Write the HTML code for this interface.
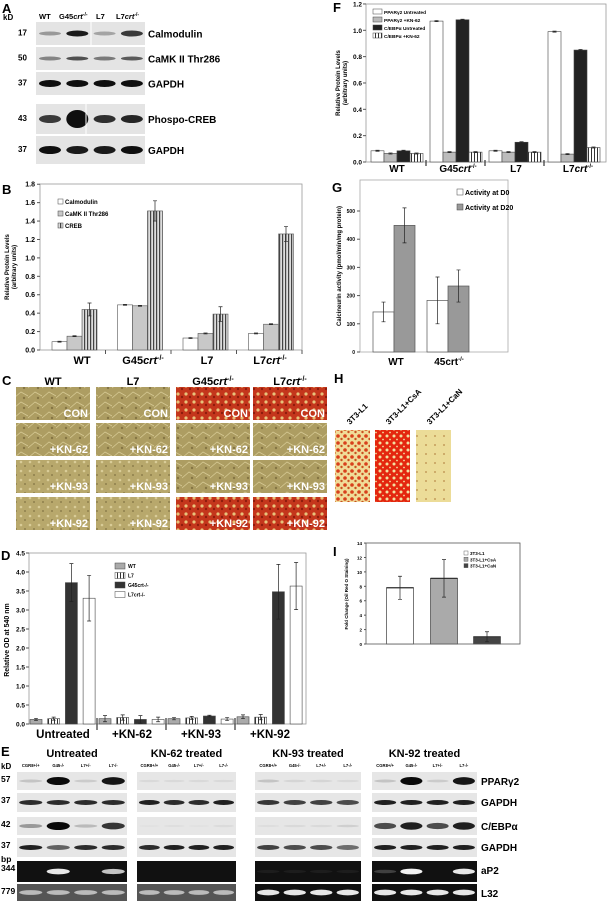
<!DOCTYPE html>
<html><head><meta charset="utf-8"><style>
body{margin:0;background:#fff}
svg{display:block;font-family:"Liberation Sans",sans-serif}
.b{font-weight:bold}
</style></head><body>
<svg id="fig" width="608" height="902" viewBox="0 0 608 902" xmlns="http://www.w3.org/2000/svg">
<defs>
<pattern id="vs" width="3" height="4" patternUnits="userSpaceOnUse"><rect width="3" height="4" fill="#ddd"/><rect width="1.2" height="4" fill="#444"/></pattern>
<pattern id="vs2" width="3" height="4" patternUnits="userSpaceOnUse"><rect width="3" height="4" fill="#fff"/><rect width="1" height="4" fill="#333"/></pattern>
<pattern id="phase" width="14" height="10" patternUnits="userSpaceOnUse"><rect width="14" height="10" fill="#ad9d62"/><path d="M0 8 L7 2 L14 6" stroke="#d6c994" stroke-width="0.8" fill="none"/><circle cx="10" cy="8" r="1.2" fill="#857544"/></pattern>
<pattern id="phase2" width="9" height="9" patternUnits="userSpaceOnUse"><rect width="9" height="9" fill="#b8a86c"/><circle cx="3" cy="3" r="1.3" fill="#d9cc98"/><circle cx="7" cy="7" r="1" fill="#8e7f4c"/></pattern>
<pattern id="red" width="8" height="8" patternUnits="userSpaceOnUse"><rect width="8" height="8" fill="#c4361c"/><circle cx="2" cy="2" r="1.6" fill="#e8c27a"/><circle cx="6" cy="5" r="1.2" fill="#8e1c0c"/></pattern>
<pattern id="hred" width="7" height="7" patternUnits="userSpaceOnUse"><rect width="7" height="7" fill="#f0dc98"/><circle cx="2" cy="2" r="1.8" fill="#d8401c"/><circle cx="5.5" cy="5" r="1.2" fill="#c85020"/></pattern>
<pattern id="hred2" width="7" height="7" patternUnits="userSpaceOnUse"><rect width="7" height="7" fill="#e4260e"/><circle cx="2" cy="2" r="1.5" fill="#f2e0a0"/><circle cx="5" cy="5.5" r="0.9" fill="#f2e0a0"/></pattern>
<pattern id="hpale" width="9" height="9" patternUnits="userSpaceOnUse"><rect width="9" height="9" fill="#ecdc98"/><circle cx="3" cy="4" r="0.9" fill="#b88a48"/></pattern>
</defs>

<!-- Panel A -->
<g>
<text x="2" y="13" class="b" font-size="13">A</text>
<text x="3" y="20" class="b" font-size="8">kD</text>
<text x="39" y="19" class="b" font-size="7.5">WT</text>
<text x="59" y="19" class="b" font-size="7.5">G45<tspan font-style="italic">crt</tspan><tspan font-size="5" dy="-3">-/-</tspan></text>
<text x="96" y="19" class="b" font-size="7.5">L7</text>
<text x="116" y="19" class="b" font-size="7.5">L7<tspan font-style="italic">crt</tspan><tspan font-size="5" dy="-3">-/-</tspan></text>
<g id="blotsA"></g>
</g>

<!-- Panel B -->
<g>
<text x="2" y="194" class="b" font-size="13">B</text>
<text transform="translate(9,267) rotate(-90)" text-anchor="middle" class="b" font-size="6">Relative Protein Levels</text>
<text transform="translate(16,267) rotate(-90)" text-anchor="middle" class="b" font-size="6">(arbitrary units)</text>
<g id="chartB"></g>
</g>

<!-- Panel C -->
<g>
<text x="2" y="385" class="b" font-size="13">C</text>
<text x="53" y="385" text-anchor="middle" class="b" font-size="11">WT</text>
<text x="133" y="385" text-anchor="middle" class="b" font-size="11">L7</text>
<text x="213" y="385" text-anchor="middle" class="b" font-size="11">G45<tspan font-style="italic">crt</tspan><tspan font-size="7" dy="-4">-/-</tspan></text>
<text x="290" y="385" text-anchor="middle" class="b" font-size="11">L7<tspan font-style="italic">crt</tspan><tspan font-size="7" dy="-4">-/-</tspan></text>
<g id="cellsC"></g>
</g>

<!-- Panel D -->
<g>
<text x="1" y="560" class="b" font-size="13">D</text>
<text transform="translate(9,640) rotate(-90)" text-anchor="middle" class="b" font-size="7">Relative OD at 540 nm</text>
<g id="chartD"></g>
</g>

<!-- Panel E -->
<g>
<text x="1" y="756" class="b" font-size="13">E</text>
<text x="1" y="769" class="b" font-size="8">kD</text>
<g id="blotsE"></g>
</g>

<!-- Panel F -->
<g>
<text x="333" y="12" class="b" font-size="13">F</text>
<text transform="translate(340,83) rotate(-90)" text-anchor="middle" class="b" font-size="6">Relative Protein Levels</text>
<text transform="translate(347,83) rotate(-90)" text-anchor="middle" class="b" font-size="6">(arbitrary units)</text>
<g id="chartF"></g>
</g>

<!-- Panel G -->
<g>
<text x="332" y="192" class="b" font-size="13">G</text>
<text transform="translate(341,266) rotate(-90)" text-anchor="middle" class="b" font-size="6">Calcineurin activity (pmol/min/mg protein)</text>
<g id="chartG"></g>
</g>

<!-- Panel H -->
<g>
<text x="334" y="383" class="b" font-size="13">H</text>
<text transform="translate(350,425) rotate(-45)" class="b" font-size="8">3T3-L1</text>
<text transform="translate(389,425) rotate(-45)" class="b" font-size="8">3T3-L1+CsA</text>
<text transform="translate(430,425) rotate(-45)" class="b" font-size="8">3T3-L1+CaN</text>
<rect x="335" y="430" width="35" height="72" fill="url(#hred)"/>
<rect x="375" y="430" width="35" height="72" fill="url(#hred2)"/>
<rect x="416" y="430" width="35" height="72" fill="url(#hpale)"/>
</g>

<!-- Panel I -->
<g>
<text x="333" y="556" class="b" font-size="13">I</text>
<text transform="translate(348,594) rotate(-90)" text-anchor="middle" class="b" font-size="4.5">Fold Change (Oil Red O Staining)</text>
<g id="chartI"></g>
</g>
</svg>

<script>
// ---------- data ----------
// Panel B
const bCategories = ["WT", "G45", "L7", "L7crt"];
const bCalmodulin = [0.09, 0.49, 0.13, 0.18];
const bCamk = [0.15, 0.48, 0.18, 0.28];
const bCreb = [0.44, 1.51, 0.39, 1.26];
const bCalmodulinErr = [0.005, 0.005, 0.005, 0.005];
const bCamkErr = [0.005, 0.005, 0.005, 0.005];
const bCrebErr = [0.07, 0.11, 0.08, 0.08];
const bTicks = ["0.0", "0.2", "0.4", "0.6", "0.8", "1.0", "1.2", "1.4", "1.6", "1.8"];
// Panel D
const dCategories = ["Untreated", "+KN-62", "+KN-93", "+KN-92"];
const dWT = [0.12, 0.14, 0.14, 0.19];
const dL7 = [0.14, 0.17, 0.16, 0.18];
const dG45 = [3.72, 0.12, 0.21, 3.48];
const dL7crt = [3.31, 0.12, 0.13, 3.63];
const dWTErr = [0.03, 0.08, 0.03, 0.05];
const dL7Err = [0.04, 0.07, 0.04, 0.07];
const dG45Err = [0.5, 0.1, 0.02, 0.72];
const dL7crtErr = [0.6, 0.06, 0.04, 0.62];
const dTicks = ["0.0", "0.5", "1.0", "1.5", "2.0", "2.5", "3.0", "3.5", "4.0", "4.5"];
// Panel F
const fCategories = ["WT", "G45", "L7", "L7crt"];
const fPparUntreated = [0.085, 1.07, 0.085, 0.99];
const fPparKn62 = [0.065, 0.075, 0.075, 0.06];
const fCebpUntreated = [0.085, 1.08, 0.15, 0.85];
const fCebpKn62 = [0.065, 0.075, 0.075, 0.11];
const fTicks = ["0.0", "0.2", "0.4", "0.6", "0.8", "1.0", "1.2"];
// Panel G
const gCategories = ["WT", "45crt-/-"];
const gD0 = [142, 183];
const gD20 = [449, 234];
const gD0Err = [35, 83];
const gD20Err = [62, 57];
const gTicks = [0, 100, 200, 300, 400, 500];
// Panel I
const iCategories = ["3T3-L1", "3T3-L1+CsA", "3T3-L1+CaN"];
const iValues = [7.8, 9.1, 1.0];
const iErr = [1.6, 2.6, 0.7];
const iTicks = [0, 2, 4, 6, 8, 10, 12, 14];

const NS = "http://www.w3.org/2000/svg";
function mk(parent, tag, attrs, name, inter) {
  const el = document.createElementNS(NS, tag);
  for (const k in attrs) el.setAttribute(k, attrs[k]);
  
  
  parent.appendChild(el);
  return el;
}
function txt(parent, x, y, s, size, name, anchor, bold) {
  const t = mk(parent, "text", {x: x, y: y, "font-size": size, "text-anchor": anchor || "start", "font-weight": bold === false ? "normal" : "bold"}, name, false);
  t.textContent = s;
  return t;
}
function errBar(g, cx, y1, y2, name) {
  mk(g, "path", {d: `M${cx} ${y1}V${y2}M${cx-2} ${y1}H${cx+2}M${cx-2} ${y2}H${cx+2}`, stroke: "#222", "stroke-width": 0.7, fill: "none"}, name, false);
}

// ---------- Panel B ----------
(function(){
  const g = document.getElementById("chartB");
  const x0 = 40, x1 = 302, yB = v => 350 - v * 92.1;
  mk(g, "rect", {x: x0, y: 184, width: x1 - x0, height: 166, fill: "#fff", stroke: "#999", "stroke-width": 0.8}, "b-plot-frame", false);
  bTicks.forEach((t, i) => {
    const y = yB(parseFloat(t));
    mk(g, "line", {x1: x0 - 3, x2: x0, y1: y, y2: y, stroke: "#555"}, "b-y-tick", false);
    txt(g, x0 - 5, y + 2.5, t, 7, "b-y-tick-label", "end");
  });
  const series = [[bCalmodulin, bCalmodulinErr, "#fff"], [bCamk, bCamkErr, "#c8c8c8"], [bCreb, bCrebErr, "url(#vs)"]];
  bCategories.forEach((c, i) => {
    const gs = 52 + i * 65.5;
    series.forEach((s, j) => {
      const v = s[0][i], e = s[1][i];
      mk(g, "rect", {x: gs + j * 15, y: yB(v), width: 15, height: yB(0) - yB(v), fill: s[2], stroke: "#555", "stroke-width": 0.6}, "b-bar", false);
      errBar(g, gs + j * 15 + 7.5, yB(v + e), yB(v - e), "b-error-bar");
    });
    mk(g, "line", {x1: x0 + (i + 1) * 65.5, x2: x0 + (i + 1) * 65.5, y1: 350, y2: 354, stroke: "#555"}, "b-x-tick", false);
  });
  txt(g, 82, 364, "WT", 11, "b-x-label-wt", "middle");
  const t2 = txt(g, 143, 364, "G45", 11, "b-x-label-g45", "middle"); t2.innerHTML = 'G45<tspan font-style="italic">crt</tspan><tspan font-size="7" dy="-4">-/-</tspan>';
  txt(g, 207, 364, "L7", 11, "b-x-label-l7", "middle");
  const t4 = txt(g, 270, 364, "L7", 11, "b-x-label-l7crt", "middle"); t4.innerHTML = 'L7<tspan font-style="italic">crt</tspan><tspan font-size="7" dy="-4">-/-</tspan>';
  const leg = [["Calmodulin", "#fff"], ["CaMK II Thr286", "#c8c8c8"], ["CREB", "url(#vs)"]];
  leg.forEach((l, i) => {
    mk(g, "rect", {x: 58, y: 199 + i * 12, width: 5, height: 5, fill: l[1], stroke: "#444", "stroke-width": 0.5}, "b-legend-swatch", false);
    txt(g, 65, 204 + i * 12, l[0], 6, "b-legend-entry");
  });
})();

// ---------- Panel C ----------
(function(){
  const g = document.getElementById("cellsC");
  const xs = [16, 96, 176, 253], ys = [387, 423, 460, 497];
  const rows = ["CON", "+KN-62", "+KN-93", "+KN-92"];
  const fills = [["url(#phase)", "url(#phase)", "url(#red)", "url(#red)"],
                 ["url(#phase)", "url(#phase)", "url(#phase)", "url(#phase)"],
                 ["url(#phase2)", "url(#phase2)", "url(#phase)", "url(#phase)"],
                 ["url(#phase2)", "url(#phase2)", "url(#red)", "url(#red)"]];
  ys.forEach((y, r) => xs.forEach((x, c) => {
    mk(g, "rect", {x: x, y: y, width: 74, height: 33, fill: fills[r][c]}, "c-micrograph", false);
    const t = txt(g, x + 72, y + 30, rows[r], 11, "c-treatment-label", "end");
    t.setAttribute("fill", "#fff");
  }));
})();

// ---------- Panel D ----------
(function(){
  const g = document.getElementById("chartD");
  const x0 = 29, x1 = 306, yD = v => 724 - v * 38;
  mk(g, "rect", {x: x0, y: 553, width: x1 - x0, height: 171, fill: "#fff", stroke: "#999", "stroke-width": 0.8}, "d-plot-frame", false);
  dTicks.forEach(t => {
    const y = yD(parseFloat(t));
    mk(g, "line", {x1: x0 - 3, x2: x0, y1: y, y2: y, stroke: "#555"}, "d-y-tick", false);
    txt(g, x0 - 4, y + 2.5, t, 6.5, "d-y-tick-label", "end");
  });
  const series = [[dWT, dWTErr, "#aaa"], [dL7, dL7Err, "url(#vs2)"], [dG45, dG45Err, "#333"], [dL7crt, dL7crtErr, "#fff"]];
  dCategories.forEach((c, i) => {
    const gs = x0 + i * 69;
    series.forEach((s, j) => {
      const v = s[0][i], e = s[1][i], cx = gs + 7 + j * 17.7;
      mk(g, "rect", {x: cx - 6, y: yD(v), width: 12, height: yD(0) - yD(v), fill: s[2], stroke: "#444", "stroke-width": 0.6}, "d-bar", false);
      errBar(g, cx, yD(v + e), yD(v - e), "d-error-bar");
    });
    if (i > 0) mk(g, "line", {x1: gs - 1, x2: gs - 1, y1: 718, y2: 730, stroke: "#333", "stroke-width": 1.2}, "d-group-divider", false);
    txt(g, gs + 34, 738, c, 11.5, "d-x-label", "middle");
  });
  const leg = [["WT", "#aaa"], ["L7", "url(#vs2)"], ["G45crt-/-", "#333"], ["L7crt-/-", "#fff"]];
  leg.forEach((l, i) => {
    mk(g, "rect", {x: 115, y: 563 + i * 9.5, width: 10, height: 6, fill: l[1], stroke: "#444", "stroke-width": 0.5}, "d-legend-swatch", false);
    txt(g, 128, 568 + i * 9.5, l[0], 5, "d-legend-entry");
  });
})();

// ---------- Panel E ----------
(function(){
  const g = document.getElementById("blotsE");
  const px = [17, 137, 255, 372], pw = [110, 99, 106, 105];
  const heads = ["Untreated", "KN-62  treated", "KN-93 treated", "KN-92 treated"];
  const rowsY = [[772, 18], [793, 19], [817, 18], [838, 19], [861, 21], [884, 17]];
  const kd = ["57", "37", "42", "37", "344", "779"];
  const labels = ["PPARγ2", "GAPDH", "C/EBPα", "GAPDH", "aP2", "L32"];
  const bands = [
    [[0.15,1,0.12,0.95],[0.85,0.85,0.85,0.85],[0.35,1,0.2,0.8],[0.9,0.6,0.85,0.85],[0,0.9,0,0.75],[0.6,0.6,0.6,0.6]],
    [[0.06,0.06,0.06,0.06],[0.9,0.85,0.85,0.9],[0.02,0.03,0.02,0.05],[0.85,0.9,0.9,0.9],[0,0,0,0],[0.6,0.6,0.6,0.6]],
    [[0.15,0.08,0.08,0.06],[0.8,0.75,0.75,0.7],[0.04,0.06,0.06,0.1],[0.75,0.7,0.7,0.55],[0.05,0.05,0.05,0.05],[0.9,0.9,0.9,0.9]],
    [[0.15,1,0.12,0.95],[0.9,0.9,0.9,0.9],[0.7,0.9,0.7,0.9],[0.9,0.9,0.9,0.9],[0.2,0.95,0,0.9],[0.9,0.9,0.9,0.9]]
  ];
  rowsY.forEach((r, ri) => {
    txt(g, 1, r[0] + 10, kd[ri], 8.5, "e-size-marker");
    txt(g, 481, r[0] + 13, labels[ri], 10, "e-row-label");
  });
  txt(g, 1, 862, "bp", 8.5, "e-bp-label");
  px.forEach((x, p) => {
    txt(g, x + pw[p] / 2, 757, heads[p], 11, "e-panel-header", "middle");
    ["CGR8+/+", "G45-/-", "L7+/-", "L7-/-"].forEach((s, l) => txt(g, x + pw[p] * (l + 0.5) / 4, 767, s, 4.2, "e-lane-label", "middle"));
    rowsY.forEach((r, ri) => {
      const gel = ri >= 4;
      mk(g, "rect", {x: x, y: r[0], width: pw[p], height: r[1], fill: gel ? (ri == 5 && p < 2 ? "#555" : "#111") : "#e6e6e6"}, "e-blot-strip", false);
      bands[p][ri].forEach((v, l) => {
        if (v <= 0) return;
        const cx = x + pw[p] * (l + 0.5) / 4;
        const col = gel ? `rgba(255,255,255,${v})` : `rgba(10,10,10,${v})`;
        const h = ri == 0 || ri == 2 ? 2 + v * 6 : (gel ? 3 + v * 3 : 5);
        mk(g, "ellipse", {cx: cx, cy: r[0] + r[1] / 2, rx: pw[p] / 9.5, ry: h / 2, fill: col}, "e-band", false);
      });
    });
  });
})();

// ---------- Panel A blots ----------
(function(){
  const g = document.getElementById("blotsA");
  const rows = [[22, 23, "17", "Calmodulin"], [47, 23, "50", "CaMK II Thr286"], [72, 23, "37", "GAPDH"], [104, 30, "43", "Phospo-CREB"], [136, 28, "37", "GAPDH"]];
  const inten = [[0.35, 0.95, 0.3, 0.8], [0.45, 0.7, 0.5, 0.65], [1, 1, 1, 1], [0.8, 1, 0.85, 0.9], [1, 0.95, 0.95, 1]];
  const thick = [4, 4, 7, 8, 8];
  rows.forEach((r, i) => {
    mk(g, "rect", {x: 36, y: r[0], width: 109, height: r[1], fill: "#e4e4e4"}, "a-blot-strip", false);
    txt(g, 18, r[0] + r[1] / 2 + 2, r[2], 8, "a-size-marker");
    txt(g, 148, r[0] + r[1] / 2 + 4, r[3], 10, "a-row-label");
    inten[i].forEach((v, l) => {
      const h = thick[i] + (i == 3 && l == 1 ? 10 : 0) + (i == 0 && (l == 1 || l == 3) ? 2 : 0);
      mk(g, "ellipse", {cx: 50 + l * 27.3, cy: r[0] + r[1] / 2, rx: 11, ry: h / 2, fill: `rgba(15,15,15,${v})`}, "a-band", false);
    });
  });
  mk(g, "line", {x1: 91, x2: 91, y1: 22, y2: 45, stroke: "#fff"}, "a-splice-line", false);
  mk(g, "line", {x1: 86, x2: 86, y1: 104, y2: 134, stroke: "#fff"}, "a-splice-line", false);
})();

// ---------- Panel F ----------
(function(){
  const g = document.getElementById("chartF");
  const x0 = 366, x1 = 606, yF = v => 162 - v * 131.7;
  mk(g, "rect", {x: x0, y: 4, width: x1 - x0, height: 158, fill: "#fff", stroke: "#999", "stroke-width": 0.8}, "f-plot-frame", false);
  fTicks.forEach(t => {
    const y = yF(parseFloat(t));
    mk(g, "line", {x1: x0 - 3, x2: x0, y1: y, y2: y, stroke: "#555"}, "f-y-tick", false);
    txt(g, x0 - 4, y + 2.5, t, 6.5, "f-y-tick-label", "end");
  });
  const series = [[fPparUntreated, "#fff"], [fPparKn62, "#bbb"], [fCebpUntreated, "#222"], [fCebpKn62, "url(#vs2)"]];
  fCategories.forEach((c, i) => {
    const gs = x0 + 5 + i * 59;
    series.forEach((s, j) => {
      const v = s[0][i];
      mk(g, "rect", {x: gs + j * 13, y: yF(v), width: 13, height: yF(0) - yF(v), fill: s[1], stroke: "#444", "stroke-width": 0.6}, "f-bar", false);
      errBar(g, gs + j * 13 + 6.5, yF(v + 0.004), yF(v - 0.004), "f-error-bar");
    });
    if (i > 0) mk(g, "line", {x1: gs - 4, x2: gs - 4, y1: 160, y2: 166, stroke: "#333", "stroke-width": 1.2}, "f-group-divider", false);
  });
  txt(g, 397, 172, "WT", 10, "f-x-label-wt", "middle");
  const a = txt(g, 458, 172, "G45", 10, "f-x-label-g45", "middle"); a.innerHTML = 'G45<tspan font-style="italic">crt</tspan><tspan font-size="6" dy="-4">-/-</tspan>';
  txt(g, 516, 172, "L7", 10, "f-x-label-l7", "middle");
  const b = txt(g, 578, 172, "L7", 10, "f-x-label-l7crt", "middle"); b.innerHTML = 'L7<tspan font-style="italic">crt</tspan><tspan font-size="6" dy="-4">-/-</tspan>';
  const leg = [["PPARγ2 Untreated", "#fff"], ["PPARγ2 +KN-62", "#bbb"], ["C/EBPα Untreated", "#222"], ["C/EBPα +KN-62", "url(#vs2)"]];
  leg.forEach((l, i) => {
    mk(g, "rect", {x: 373, y: 9 + i * 8, width: 9, height: 5, fill: l[1], stroke: "#444", "stroke-width": 0.5}, "f-legend-swatch", false);
    txt(g, 384, 14 + i * 8, l[0], 4.8, "f-legend-entry");
  });
})();

// ---------- Panel G ----------
(function(){
  const g = document.getElementById("chartG");
  const x0 = 360, x1 = 508, yG = v => 352 - v * 0.282;
  mk(g, "rect", {x: x0, y: 180, width: x1 - x0, height: 172, fill: "#fff", stroke: "#aaa", "stroke-width": 0.8}, "g-plot-frame", false);
  gTicks.forEach(t => {
    const y = yG(t);
    mk(g, "line", {x1: x0 - 3, x2: x0, y1: y, y2: y, stroke: "#555"}, "g-y-tick", false);
    txt(g, x0 - 5, y + 2, String(t), 5, "g-y-tick-label", "end");
  });
  gCategories.forEach((c, i) => {
    const gs = 373 + i * 54;
    [[gD0, gD0Err, "#fff"], [gD20, gD20Err, "#999"]].forEach((s, j) => {
      const v = s[0][i], e = s[1][i];
      mk(g, "rect", {x: gs + j * 21, y: yG(v), width: 21, height: yG(0) - yG(v), fill: s[2], stroke: "#555", "stroke-width": 0.7}, "g-bar", false);
      errBar(g, gs + j * 21 + 10.5, yG(v + e), yG(v - e), "g-error-bar");
    });
  });
  txt(g, 396, 365, "WT", 10, "g-x-label-wt", "middle");
  const t = txt(g, 449, 365, "45crt", 10, "g-x-label-45crt", "middle"); t.innerHTML = '45crt<tspan font-size="6" dy="-4">-/-</tspan>';
  [["Activity at D0", "#fff"], ["Activity at D20", "#999"]].forEach((l, i) => {
    mk(g, "rect", {x: 457, y: 189 + i * 15, width: 6, height: 6, fill: l[1], stroke: "#444", "stroke-width": 0.5}, "g-legend-swatch", false);
    txt(g, 465, 195 + i * 15, l[0], 7, "g-legend-entry");
  });
})();

// ---------- Panel I ----------
(function(){
  const g = document.getElementById("chartI");
  const x0 = 366, x1 = 520, yI = v => 644 - v * 7.21;
  mk(g, "rect", {x: x0, y: 543, width: x1 - x0, height: 101, fill: "#fff", stroke: "#555", "stroke-width": 0.8}, "i-plot-frame", false);
  iTicks.forEach(t => {
    const y = yI(t);
    mk(g, "line", {x1: x0 - 2, x2: x0, y1: y, y2: y, stroke: "#555"}, "i-y-tick", false);
    txt(g, x0 - 4, y + 2, String(t), 4.5, "i-y-tick-label", "end");
  });
  const fills = ["#fff", "#aaa", "#444"], cxs = [400, 444, 487];
  iCategories.forEach((c, i) => {
    const v = iValues[i], e = iErr[i];
    mk(g, "rect", {x: cxs[i] - 13.5, y: yI(v), width: 27, height: yI(0) - yI(v), fill: fills[i], stroke: "#555", "stroke-width": 0.8}, "i-bar", false);
    mk(g, "line", {x1: cxs[i] - 13.5, x2: cxs[i] + 13.5, y1: yI(v), y2: yI(v), stroke: "#333", "stroke-width": 1.2}, "i-bar-top", false);
    errBar(g, cxs[i], yI(v + e), yI(v - e), "i-error-bar");
    mk(g, "rect", {x: 464, y: 551 + i * 6.3, width: 4, height: 4, fill: fills[i], stroke: "#444", "stroke-width": 0.4}, "i-legend-swatch", false);
    txt(g, 470, 555 + i * 6.3, c, 4.5, "i-legend-entry");
  });
})();
</script>
</body></html>
